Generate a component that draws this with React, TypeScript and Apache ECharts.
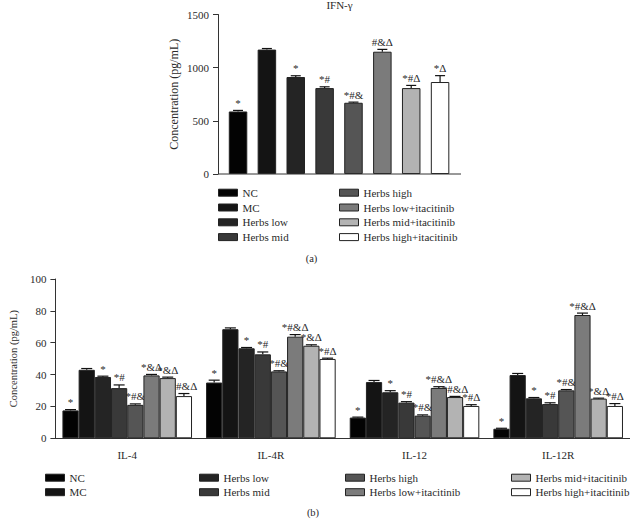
import React, { useEffect, useRef } from "react";
import * as echarts from "echarts";

const groups = [
  "NC",
  "MC",
  "Herbs low",
  "Herbs mid",
  "Herbs high",
  "Herbs low+itacitinib",
  "Herbs mid+itacitinib",
  "Herbs high+itacitinib",
];
const groupColors = ["#030303", "#141414", "#242424", "#393939", "#555555", "#7b7b7b", "#b3b3b3", "#ffffff"];

// (a) IFN-γ
const ifnValues = [588, 1170, 912, 808, 670, 1150, 808, 865];
const ifnErrors = [10, 10, 12, 12, 6, 22, 25, 60];
const ifnMarks = ["*", "", "*", "*#", "*#&", "#&Δ", "*#Δ", "*Δ"];
const ifnTicks = [0, 500, 1000, 1500];

// (b) cytokines
const cytokines = ["IL-4", "IL-4R", "IL-12", "IL-12R"];
const ncValues = [17.5, 35, 13, 6];
const mcValues = [43, 68.5, 35.3, 39.7];
const lowValues = [38.5, 56.5, 28.9, 25.1];
const midValues = [31.5, 52.7, 22.4, 21.5];
const highValues = [21, 42, 14.2, 30.1];
const lowItaValues = [39.5, 63.8, 31.6, 77.4];
const midItaValues = [37.8, 58.1, 25.9, 24.9];
const highItaValues = [26.5, 49.8, 20.3, 20.3];

const ncErrors = [0.5, 1.5, 0.3, 0.3];
const mcErrors = [0.8, 0.8, 1, 1];
const lowErrors = [0.5, 0.5, 1, 0.5];
const midErrors = [2, 1.5, 0.6, 0.8];
const highErrors = [0.6, 0.4, 0.5, 0.5];
const lowItaErrors = [0.6, 1.3, 0.8, 1.2];
const midItaErrors = [0.6, 0.6, 0.4, 0.3];
const highItaErrors = [1.6, 0.5, 0.8, 1.5];

const ncMarks = ["*", "*", "*", "*"];
const mcMarks = ["", "", "", ""];
const lowMarks = ["*", "*", "*", "*"];
const midMarks = ["*#", "*#", "*#", "*#"];
const highMarks = ["*#&", "*#&", "*#&", "*#&"];
const lowItaMarks = ["*&Δ", "*#&Δ", "*#&Δ", "*#&Δ"];
const midItaMarks = ["*&Δ", "*&Δ", "*#&Δ", "*&Δ"];
const highItaMarks = ["*#&Δ", "*#Δ", "*#Δ", "*#Δ"];
const cytoTicks = [0, 20, 40, 60, 80, 100];

const cytoValues = [ncValues, mcValues, lowValues, midValues, highValues, lowItaValues, midItaValues, highItaValues];
const cytoErrors = [ncErrors, mcErrors, lowErrors, midErrors, highErrors, lowItaErrors, midItaErrors, highItaErrors];
const cytoMarks = [ncMarks, mcMarks, lowMarks, midMarks, highMarks, lowItaMarks, midItaMarks, highItaMarks];

const FONT = "Liberation Serif";
const TEXT = "#2a2a2a";
const AXIS = "#333";
const BORDER = "#222";
const BAR_W2 = 16.2;

function errorRender(values: number[], errors: number[], marks: string[], half: number, shift: number) {
  return (params: any, api: any) => {
    const i = params.dataIndex;
    const cat = api.value(0);
    const v = values[i];
    const e = errors[i];
    const base = api.coord([cat, v]);
    const top = api.coord([cat, v + e]);
    const x = base[0] + shift;
    const lineStyle = { stroke: "#111", lineWidth: 1.2, fill: null };
    return {
      type: "group",
      children: [
        { type: "line", shape: { x1: x, y1: base[1], x2: x, y2: top[1] }, style: lineStyle },
        { type: "line", shape: { x1: x - half, y1: top[1], x2: x + half, y2: top[1] }, style: lineStyle },
        {
          type: "text",
          x: x,
          y: top[1] - 2,
          style: {
            text: marks[i],
            align: "center",
            verticalAlign: "bottom",
            fontSize: 11,
            fontFamily: FONT,
            fill: TEXT,
            stroke: null,
          },
        },
      ],
    };
  };
}

export default function App() {
  const ref = useRef<HTMLDivElement>(null);

  useEffect(() => {
    if (!ref.current) return;
    const chart = echarts.init(ref.current, undefined, { renderer: "svg" });

    const topBars = groups.map((g, i) => ({
      type: "bar",
      name: g,
      xAxisIndex: 0,
      yAxisIndex: 0,
      stack: "ifn",
      barWidth: 18.5,
      z: 2,
      data: ifnValues.map((v, j) => (j === i ? v : "-")),
      itemStyle: { color: groupColors[i], borderColor: BORDER, borderWidth: 1 },
    }));

    const topErr = {
      type: "custom",
      xAxisIndex: 0,
      yAxisIndex: 0,
      z: 1,
      clip: false,
      itemStyle: { color: TEXT },
      data: ifnValues.map((v, i) => [i, v]),
      renderItem: errorRender(ifnValues, ifnErrors, ifnMarks, 5, 0),
    };

    const bottomBars = groups.map((g, i) => ({
      type: "bar",
      name: g,
      xAxisIndex: 1,
      yAxisIndex: 1,
      barWidth: BAR_W2,
      barGap: "0%",
      z: 2,
      data: cytoValues[i],
      itemStyle: { color: groupColors[i], borderColor: BORDER, borderWidth: 1 },
    }));

    const bottomErr = groups.map((g, i) => ({
      type: "custom",
      xAxisIndex: 1,
      yAxisIndex: 1,
      z: 1,
      clip: false,
      itemStyle: { color: TEXT },
      data: cytoValues[i].map((v, j) => [j, v]),
      renderItem: errorRender(cytoValues[i], cytoErrors[i], cytoMarks[i], 5.5, (i - 3.5) * BAR_W2),
    }));

    const legendBase = {
      orient: "vertical",
      icon: "rect",
      itemWidth: 19,
      itemHeight: 7,
      itemGap: 2.8,
      selectedMode: false,
      padding: 0,
      textStyle: { fontFamily: FONT, fontSize: 11, fontWeight: "normal", color: TEXT, lineHeight: 12 },
      itemStyle: { borderColor: BORDER, borderWidth: 1 },
    };

    const plain = (v: number) => String(v);

    const option: any = {
      animation: false,
      backgroundColor: "#ffffff",
      textStyle: { fontFamily: FONT },
      grid: [
        { left: 223.6, top: 14.5, width: 230.9, height: 159.5 },
        { left: 44, top: 279, width: 586, height: 159.3 },
      ],
      xAxis: [
        {
          type: "category",
          gridIndex: 0,
          data: groups,
          axisLine: { show: false },
          axisTick: { show: false },
          axisLabel: { show: false },
        },
        {
          type: "category",
          gridIndex: 1,
          data: cytokines,
          axisLine: { lineStyle: { color: AXIS, width: 1 } },
          axisTick: { alignWithLabel: true, length: 5, lineStyle: { color: AXIS } },
          axisLabel: { fontFamily: FONT, fontSize: 11, color: TEXT, margin: 11 },
        },
      ],
      yAxis: [
        {
          type: "value",
          gridIndex: 0,
          min: ifnTicks[0],
          max: ifnTicks[ifnTicks.length - 1],
          interval: 500,
          offset: 5.6,
          name: "Concentration (pg/mL)",
          nameLocation: "middle",
          nameGap: 38,
          nameTextStyle: { fontFamily: FONT, fontSize: 12, color: TEXT },
          axisLine: { show: true, lineStyle: { color: AXIS, width: 1 } },
          axisTick: { show: true, length: 5, lineStyle: { color: AXIS } },
          axisLabel: { fontFamily: FONT, fontSize: 11, color: TEXT, margin: 9, formatter: plain },
          splitLine: { show: false },
        },
        {
          type: "value",
          gridIndex: 1,
          min: cytoTicks[0],
          max: cytoTicks[cytoTicks.length - 1],
          interval: 20,
          name: "Concentration (pg/mL)",
          nameLocation: "middle",
          nameGap: 35,
          nameTextStyle: { fontFamily: FONT, fontSize: 10.5, color: TEXT },
          axisLine: { show: true, lineStyle: { color: AXIS, width: 1 } },
          axisTick: { show: true, length: 5, lineStyle: { color: AXIS } },
          axisLabel: { fontFamily: FONT, fontSize: 11, color: TEXT, margin: 9, formatter: plain },
          splitLine: { show: false },
        },
      ],
      legend: [
        { ...legendBase, left: 218, top: 186.7, data: groups.slice(0, 4) },
        { ...legendBase, left: 339, top: 186.7, data: groups.slice(4, 8) },
        { ...legendBase, left: 45, top: 471.7, itemGap: 2.5, data: groups.slice(0, 2) },
        { ...legendBase, left: 199, top: 471.7, itemGap: 2.5, data: groups.slice(2, 4) },
        { ...legendBase, left: 345, top: 471.7, itemGap: 2.5, data: groups.slice(4, 6) },
        { ...legendBase, left: 511, top: 471.7, itemGap: 2.5, data: groups.slice(6, 8) },
      ],
      graphic: [
        {
          type: "line",
          shape: { x1: 218, y1: 174, x2: 461, y2: 174 },
          style: { stroke: AXIS, lineWidth: 1 },
          z: 10,
        },
        {
          type: "text",
          x: 339.5,
          y: 5,
          style: { text: "IFN-γ", align: "center", verticalAlign: "middle", fontFamily: FONT, fontSize: 11, fill: TEXT },
        },
        {
          type: "text",
          x: 311.5,
          y: 258,
          style: { text: "(a)", align: "center", verticalAlign: "middle", fontFamily: FONT, fontSize: 10.5, fill: TEXT },
        },
        {
          type: "text",
          x: 313,
          y: 512,
          style: { text: "(b)", align: "center", verticalAlign: "middle", fontFamily: FONT, fontSize: 10.5, fill: TEXT },
        },
      ],
      series: [...topBars, topErr, ...bottomBars, ...bottomErr],
    };

    chart.setOption(option);
    return () => chart.dispose();
  }, []);

  return (
    <div
      ref={ref}
      style={{ position: "absolute", left: 0, top: 0, width: 630, height: 519, background: "#fff" }}
    />
  );
}
